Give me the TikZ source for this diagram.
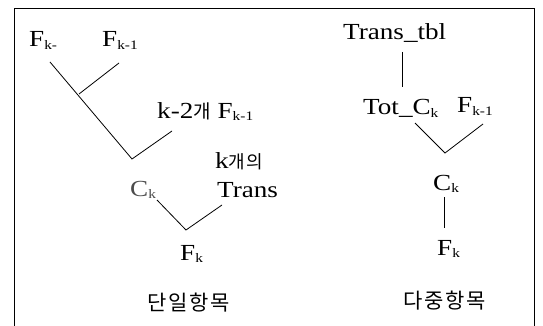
\documentclass[tikz,border=0pt]{standalone}
\usepackage{fontspec}
\setmainfont{Liberation Serif}[FakeStretch=1.18]
\newfontfamily\kr{Noto Sans CJK KR}[LetterSpace=8]
\newcommand{\sbs}[1]{{\fontsize{13}{13}\selectfont\raisebox{-2.5pt}{#1}}}
\begin{document}
\begin{tikzpicture}[x=1pt,y=-1pt,
  lbl/.style={inner sep=0pt,anchor=base west,font=\fontsize{23}{23}\selectfont},
  klbl/.style={inner sep=0pt,anchor=base west,font=\fontsize{21}{21}\selectfont\kr},
  ln/.style={line width=0.8pt}]
\useasboundingbox (0,0) rectangle (543,326);
\draw[line width=0.9pt] (14,326) -- (14,8) -- (534,8) -- (534,326);
% left tree
\node[lbl] (fa) at (29,47) {F\sbs{k-}};
\node[lbl] (fb) at (102,47) {F\sbs{k-1}};
\node[lbl] (k2) at (157,118) {k-2{\kr\fontsize{19}{19}\selectfont 개} F\sbs{k-1}};
\node[lbl] (kgae) at (215,168) {k{\kr\fontsize{18}{18}\selectfont 개의}};
\node[lbl] (trans) at (217,197) {Trans};
\node[lbl,text=black!70] (ckl) at (130,196) {C\sbs{k}};
\node[lbl] (fkl) at (180,260) {F\sbs{k}};
\node[klbl] (dan) at (147,310) {단일항목};
\coordinate (a1) at (50,62);
\coordinate (j1) at (79,94);
\coordinate (b1) at (119,63);
\coordinate (j2) at (132,159);
\coordinate (c1) at (172,131);
\coordinate (d1) at (157,200);
\coordinate (j3) at (186,230);
\coordinate (e1) at (222,205);
\draw[ln] (a1) -- (j2) -- (c1);
\draw[ln] (b1) -- (j1);
\draw[ln] (d1) -- (j3) -- (e1);
% right tree
\node[lbl] (tt) at (343,40) {Trans\_tbl};
\node[lbl] (tot) at (363,115) {Tot\_C\sbs{k}};
\node[lbl] (fr) at (457,113) {F\sbs{k-1}};
\node[lbl] (ckr) at (433,190) {C\sbs{k}};
\node[lbl] (fkr) at (437,255) {F\sbs{k}};
\node[klbl] (da) at (403,308) {다중항목};
\coordinate (t1) at (402,52);
\coordinate (t2) at (402,87);
\coordinate (g1) at (415,123);
\coordinate (j4) at (445,153);
\coordinate (h1) at (483,124);
\coordinate (v1) at (444,197);
\coordinate (v2) at (444,228);
\draw[ln] (t1) -- (t2);
\draw[ln] (g1) -- (j4) -- (h1);
\draw[ln] (v1) -- (v2);
\end{tikzpicture}
\end{document}
